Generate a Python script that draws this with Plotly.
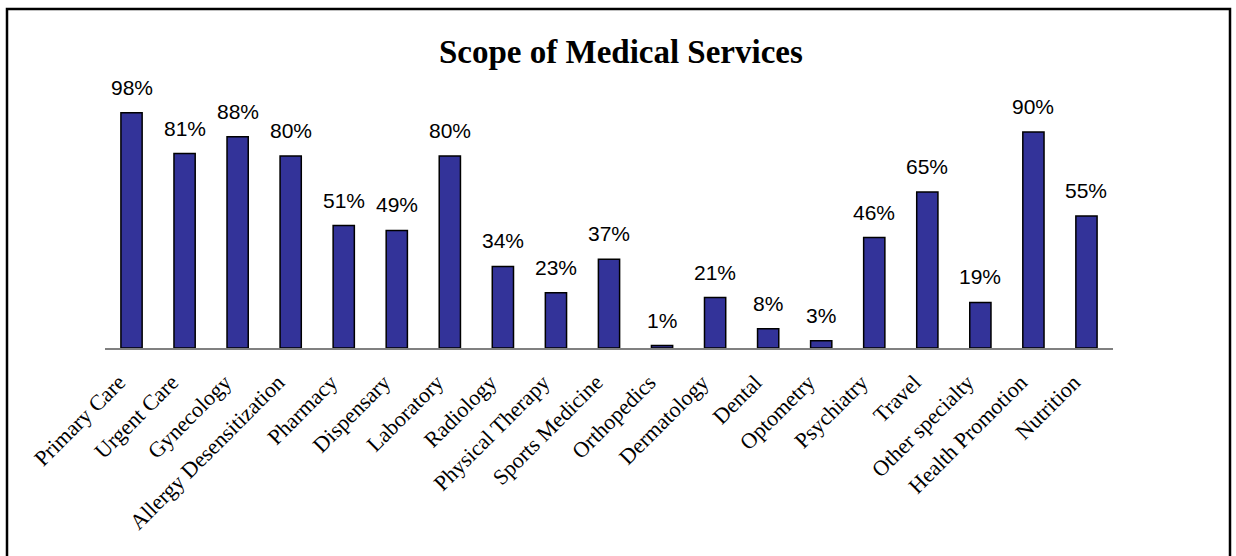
import plotly.graph_objects as go

categories = [
    "Primary Care", "Urgent Care", "Gynecology", "Allergy Desensitization",
    "Pharmacy", "Dispensary", "Laboratory", "Radiology", "Physical Therapy",
    "Sports Medicine", "Orthopedics", "Dermatology", "Dental", "Optometry",
    "Psychiatry", "Travel", "Other specialty", "Health Promotion", "Nutrition",
]
percent_values = [98, 81, 88, 80, 51, 49, 80, 34, 23, 37, 1, 21, 8, 3, 46, 65, 19, 90, 55]
title_text = "Scope of Medical Services"

W, H = 1236, 556
L, R, T, B = 105, 123, 108, 208
plot_w = W - L - R
plot_h = H - T - B

positions = list(range(len(categories)))
# rotated labels sit slightly left of each bar centre
label_offset = 0.24

fig = go.Figure()
fig.add_trace(go.Bar(
    x=positions,
    y=[v / 100 for v in percent_values],
    marker=dict(color="#333399", line=dict(color="#000000", width=1.5)),
    hoverinfo="skip",
))

# value labels above each bar
annotations = []
for pos, v in zip(positions, percent_values):
    annotations.append(dict(
        x=pos, y=v / 100, xref="x", yref="y",
        text=f"{v}%", showarrow=False,
        yanchor="bottom", yshift=12,
        font=dict(family="Liberation Sans, Arial", size=21, color="#000000"),
    ))

def px_x(p):
    return (p - L) / plot_w

def px_y(p):
    return (H - B - p) / plot_h

# chart title
annotations.append(dict(
    x=px_x(621), y=px_y(52), xref="paper", yref="paper",
    text="<b>" + title_text + "</b>", showarrow=False,
    xanchor="center", yanchor="middle",
    font=dict(family="Liberation Serif, Times New Roman", size=33, color="#000000"),
))

# outer frame around the chart
frame = dict(type="rect", xref="paper", yref="paper",
             x0=px_x(7), x1=px_x(1230), y0=px_y(600), y1=px_y(9),
             line=dict(color="#000000", width=2.5), layer="above")

fig.update_layout(
    width=W, height=H,
    margin=dict(l=L, r=R, t=T, b=B, pad=0),
    paper_bgcolor="#ffffff", plot_bgcolor="#ffffff",
    bargap=0.6,
    showlegend=False,
    annotations=annotations,
    shapes=[frame],
    xaxis=dict(
        range=[-0.5, len(categories) - 0.5],
        tickmode="array",
        tickvals=[p - label_offset for p in positions],
        ticktext=categories,
        showline=True, linecolor="#808080", linewidth=1.5,
        showgrid=False, zeroline=False,
        ticks="", tickangle=-45, ticklabelstandoff=11,
        tickfont=dict(family="Liberation Serif, Times New Roman", size=22, color="#000000"),
        fixedrange=True,
    ),
    yaxis=dict(
        range=[0, 1],
        showline=False, showgrid=False, zeroline=False,
        showticklabels=False, ticks="",
        fixedrange=True,
    ),
)

fig.write_html("out.html", config={"displayModeBar": False})
